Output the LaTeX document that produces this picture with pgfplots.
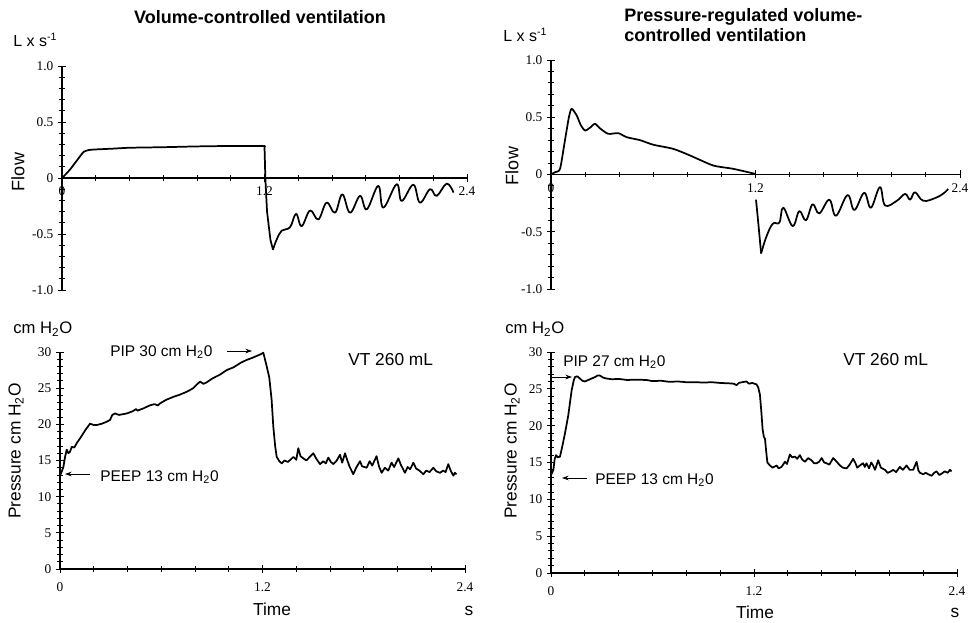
\documentclass[border=0pt]{standalone}
\usepackage{pgfplots}
\pgfplotsset{compat=1.18}
\usepackage{fontspec}
\setmainfont{Liberation Sans}
\newfontfamily\tickfamily{Liberation Serif}
\usetikzlibrary{arrows.meta}
\newcommand\fs[1]{\fontsize{#1}{#1}\selectfont}
\newcommand\tickfont{\tickfamily\fs{10}}

\pgfplotsset{
  vent/.style={
    scale only axis, anchor=south west,
    xmin=0, xmax=2.4, enlargelimits=false, clip=false,
    axis y line*=left,
    axis line style={line width=0.9pt},
    xtick={0,1.2,2.4}, xticklabels={0,1.2,2.4},
    minor xtick={0.2,0.4,0.6,0.8,1.0,1.4,1.6,1.8,2.0,2.2},
    tick align=center,
    major tick length=6pt, minor tick length=4pt,
    every tick/.style={black, line width=0.7pt},
    tick label style={font=\tickfont},
    hide obscured x ticks=false, hide obscured y ticks=false,
  },
  flow/.style={vent, axis x line*=middle,
    ymin=-1, ymax=1, ytick={-1,-0.5,0,0.5,1},
    yticklabels={-1.0,-0.5,0,0.5,1.0}, minor y tick num=4},
  pres/.style={vent, axis x line*=bottom,
    ymin=0, ymax=30, ytick={0,5,10,15,20,25,30},
    yticklabels={0,5,10,15,20,25,30}, minor y tick num=4,
    xticklabel style={yshift=-4pt}},
  trace/.style={black, line width=1.3pt, line join=round, no marks},
}

\begin{document}
\begin{tikzpicture}
\useasboundingbox (0,0) rectangle (726.75pt,466.5pt);

% flow, volume-controlled
\begin{axis}[flow, at={(46.5pt,249pt)}, width=303.75pt, height=168pt]
\addplot[trace, smooth, tension=0.4] coordinates {
  (0,0)(0.02,0.03)(0.05,0.08)(0.08,0.14)(0.11,0.2)(0.13,0.235)(0.16,0.25)
  (0.2,0.255)(0.3,0.262)(0.4,0.27)(0.6,0.275)(0.8,0.282)(1.0,0.286)(1.19,0.286)(1.2,0.28)};
\addplot[trace] coordinates {(1.2,0.28)(1.205,0.0)(1.215,-0.3)(1.235,-0.55)(1.25,-0.64)};
\addplot[trace, smooth, tension=0.65] coordinates {
  (1.25,-0.64)(1.272,-0.55)(1.302,-0.47)(1.351,-0.44)(1.387,-0.32)(1.42,-0.43)
  (1.47,-0.29)(1.519,-0.37)(1.568,-0.22)(1.618,-0.31)(1.661,-0.146)(1.707,-0.31)
  (1.766,-0.16)(1.806,-0.28)(1.874,-0.07)(1.904,-0.265)(1.983,-0.056)(2.013,-0.205)
  (2.082,-0.06)(2.121,-0.22)(2.181,-0.10)(2.22,-0.16)(2.28,-0.05)(2.32,-0.13)};
\end{axis}

% flow, pressure-regulated
\begin{axis}[flow, at={(413.25pt,249.75pt)}, width=306.75pt, height=171.75pt]
\addplot[trace, smooth, tension=0.4] coordinates {
  (0,0)(0.023,0.02)(0.053,0.05)(0.082,0.30)(0.105,0.5)(0.121,0.574)(0.151,0.515)
  (0.175,0.43)(0.2,0.384)(0.23,0.41)(0.258,0.443)(0.29,0.4)(0.336,0.355)(0.395,0.361)
  (0.444,0.326)(0.522,0.30)(0.6,0.26)(0.717,0.224)(0.816,0.166)(0.951,0.079)
  (1.068,0.05)(1.197,0.006)};
\addplot[trace] coordinates {(1.203,-0.22)(1.218,-0.45)(1.233,-0.69)};
\addplot[trace, smooth, tension=0.65] coordinates {
  (1.233,-0.69)(1.262,-0.55)(1.301,-0.43)(1.34,-0.42)(1.363,-0.29)(1.418,-0.45)
  (1.457,-0.32)(1.496,-0.40)(1.535,-0.26)(1.574,-0.34)(1.633,-0.22)(1.672,-0.36)
  (1.74,-0.18)(1.78,-0.31)(1.838,-0.16)(1.877,-0.29)(1.93,-0.11)(1.96,-0.27)
  (2.029,-0.23)(2.078,-0.17)(2.107,-0.22)(2.136,-0.155)(2.185,-0.23)(2.263,-0.2)
  (2.312,-0.155)(2.33,-0.125)};
\end{axis}

% pressure, volume-controlled
\begin{axis}[pres, at={(45pt,39.75pt)}, width=303.75pt, height=162.75pt]
\addplot[trace] coordinates {
  (0,13.0)(0.006,13.2)(0.02,14.1)(0.03,15.5)(0.04,16.5)(0.05,16.0)(0.059,16.2)
  (0.07,16.9)(0.085,16.8)(0.099,17.4)(0.12,18.1)(0.15,19.2)(0.178,20.1)(0.2,19.9)
  (0.217,19.9)(0.25,20.1)(0.28,20.4)(0.296,20.6)(0.31,21.3)(0.326,21.5)(0.35,21.3)
  (0.395,21.5)(0.43,21.8)(0.45,22.1)(0.46,21.9)(0.494,22.2)(0.53,22.6)(0.56,22.8)
  (0.58,22.6)(0.593,22.9)(0.63,23.4)(0.672,23.8)(0.71,24.1)(0.751,24.5)(0.79,25.0)
  (0.81,25.5)(0.83,25.9)(0.85,25.6)(0.869,25.8)(0.9,26.3)(0.95,26.9)(0.988,27.5)
  (1.03,27.9)(1.07,28.5)(1.106,28.9)(1.14,29.2)(1.17,29.5)(1.19,29.7)(1.205,29.9)
  (1.225,28.0)(1.24,26.5)(1.254,23.4)(1.264,19.7)(1.275,17.0)(1.284,15.5)(1.3,14.9)
  (1.314,14.6)(1.33,15.0)(1.35,14.8)(1.37,15.2)(1.383,15.5)(1.40,15.1)(1.412,16.7)
  (1.425,15.6)(1.442,15.3)(1.46,15.0)(1.48,15.5)(1.501,16.0)(1.52,15.2)(1.541,14.5)
  (1.56,14.9)(1.575,14.6)(1.590,15.4)(1.605,14.8)(1.62,14.5)(1.64,15.0)(1.659,15.8)
  (1.672,14.7)(1.689,16.0)(1.70,15.2)(1.715,14.2)(1.738,13.1)(1.755,14.0)(1.778,14.9)
  (1.79,14.2)(1.817,14.0)(1.835,14.9)(1.85,14.3)(1.876,15.6)(1.89,14.2)(1.906,13.3)
  (1.925,14.0)(1.945,13.6)(1.965,14.7)(1.98,14.1)(2.005,15.3)(2.02,14.4)(2.044,13.3)
  (2.06,14.1)(2.075,13.8)(2.094,14.7)(2.11,13.9)(2.13,13.6)(2.153,13.1)(2.17,13.6)
  (2.19,13.4)(2.212,14.0)(2.23,13.5)(2.252,13.3)(2.27,13.6)(2.285,13.4)(2.301,14.5)
  (2.315,13.6)(2.331,12.9)(2.34,13.3)(2.35,13.1)};
\end{axis}

% pressure, pressure-regulated
\begin{axis}[pres, at={(413.25pt,36.75pt)}, width=304.5pt, height=165.75pt]
\addplot[trace] coordinates {
  (0,13.3)(0.014,14.0)(0.022,15.5)(0.03,16.0)(0.04,15.7)(0.053,15.8)(0.065,17.0)
  (0.083,19.0)(0.102,21.4)(0.122,24.8)(0.135,26.2)(0.142,26.6)(0.155,26.7)(0.171,26.4)
  (0.185,26.1)(0.2,26.0)(0.22,26.2)(0.24,26.4)(0.26,26.6)(0.275,26.8)(0.289,26.8)
  (0.31,26.5)(0.329,26.4)(0.36,26.3)(0.40,26.35)(0.45,26.2)(0.5,26.25)(0.565,26.2)
  (0.6,26.05)(0.65,26.1)(0.7,25.95)(0.75,26.0)(0.8,25.9)(0.86,25.9)(0.9,25.85)
  (0.95,25.9)(1.0,25.8)(1.05,25.75)(1.08,25.7)(1.097,25.5)(1.11,25.8)(1.13,25.9)
  (1.156,26.0)(1.17,25.7)(1.19,25.8)(1.215,25.6)(1.225,25.2)(1.235,24.2)(1.243,22.0)
  (1.251,19.5)(1.258,18.5)(1.265,18.2)(1.272,16.5)(1.279,15.0)(1.294,14.6)(1.31,14.3)
  (1.334,14.6)(1.345,14.2)(1.363,14.4)(1.383,15.1)(1.395,14.8)(1.412,16.1)(1.425,15.7)
  (1.442,15.8)(1.455,15.5)(1.471,16.0)(1.485,15.4)(1.501,15.1)(1.52,15.6)(1.540,15.3)
  (1.555,14.9)(1.57,14.9)(1.585,15.1)(1.6,15.6)(1.615,15.0)(1.629,14.9)(1.645,14.7)
  (1.668,15.6)(1.685,15.2)(1.708,14.6)(1.725,14.3)(1.747,14.2)(1.765,14.7)(1.786,15.5)
  (1.80,14.9)(1.81,14.3)(1.826,14.6)(1.845,14.9)(1.855,14.4)(1.865,14.9)(1.88,14.2)
  (1.893,15.0)(1.904,14.6)(1.915,14.0)(1.934,15.3)(1.95,14.3)(1.974,14.0)(1.99,13.6)
  (2.01,13.8)(2.023,14.0)(2.04,13.7)(2.062,14.4)(2.08,14.0)(2.102,14.6)(2.12,14.0)
  (2.141,14.0)(2.161,15.1)(2.172,13.9)(2.181,13.6)(2.2,13.4)(2.215,13.6)(2.23,13.4)
  (2.25,13.2)(2.265,13.6)(2.279,13.8)(2.295,13.3)(2.31,13.5)(2.328,13.8)(2.345,13.6)
  (2.358,14.0)(2.368,13.8)};
\end{axis}

% labels placed in pixel units of the reference (y downwards)
\begin{scope}[x=0.75pt, y=-0.75pt, shift={(0,466.5pt)}, every node/.style={inner sep=0pt}]
\node[font=\fs{13.5}\bfseries] at (260,17) {Volume-controlled ventilation};
\node[anchor=west, font=\fs{13.5}\bfseries] at (624,17) {Pressure-regulated volume-};
\node[anchor=west, font=\fs{13.5}\bfseries] at (624,35) {controlled ventilation};
\node[anchor=west, font=\fs{12}] at (13,40) {L x s\textsuperscript{-1}};
\node[anchor=west, font=\fs{12}] at (503,35) {L x s\textsuperscript{-1}};
\node[rotate=90, font=\fs{13.5}] at (18,172) {Flow};
\node[rotate=90, font=\fs{13.5}] at (512,166) {Flow};
\node[anchor=west, font=\fs{12.5}] at (13,329) {cm H\textsubscript{2}O};
\node[anchor=west, font=\fs{12.5}] at (505,329) {cm H\textsubscript{2}O};
\node[rotate=90, font=\fs{13}] at (16,451) {Pressure cm H\textsubscript{2}O};
\node[rotate=90, font=\fs{13}] at (512,451) {Pressure cm H\textsubscript{2}O};
\node[font=\fs{13}] at (272,609) {Time};
\node[font=\fs{13}] at (755,612) {Time};
\node[font=\fs{13}] at (469,611) {s};
\node[font=\fs{13}] at (955,613) {s};
\node[anchor=west, font=\fs{13}] at (348,360) {VT 260 mL};
\node[anchor=west, font=\fs{13}] at (843,360) {VT 260 mL};
\node[anchor=west, font=\fs{11.6}] at (110,352) {PIP 30 cm H\textsubscript{2}0};
\node[anchor=west, font=\fs{11.6}] at (100,477) {PEEP 13 cm H\textsubscript{2}0};
\node[anchor=west, font=\fs{11.6}] at (563,362) {PIP 27 cm H\textsubscript{2}0};
\node[anchor=west, font=\fs{11.6}] at (595,480) {PEEP 13 cm H\textsubscript{2}0};
\draw[line width=0.6pt, -{Stealth[length=5pt,width=3.5pt]}] (227,351) -- (252,351);
\draw[line width=0.6pt, -{Stealth[length=5pt,width=3.5pt]}] (90,474) -- (65,474);
\draw[line width=0.6pt, -{Stealth[length=5pt,width=3.5pt]}] (551,377) -- (572,377);
\draw[line width=0.6pt, -{Stealth[length=5pt,width=3.5pt]}] (587,478) -- (562,478);
\end{scope}
\end{tikzpicture}
\end{document}
